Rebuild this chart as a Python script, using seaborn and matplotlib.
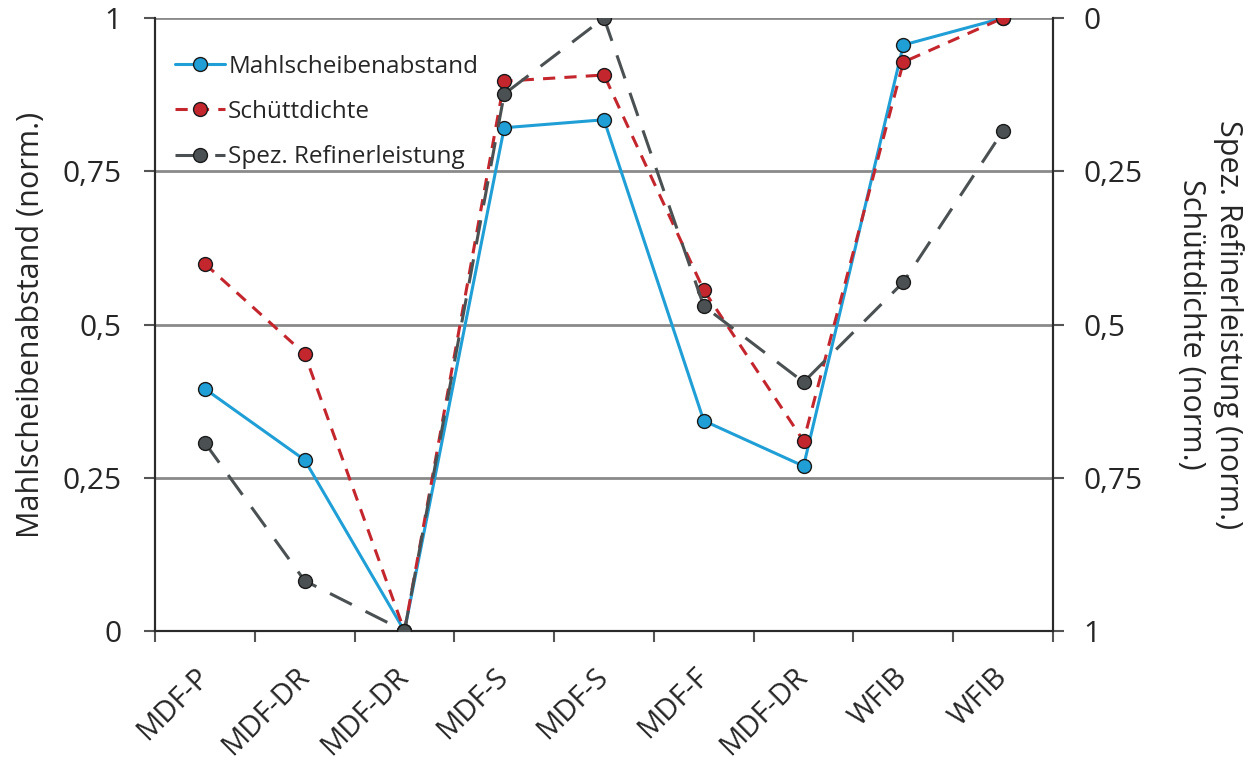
import matplotlib
matplotlib.use("Agg")
import matplotlib.pyplot as plt
import seaborn as sns
import numpy as np
import pandas as pd

categories = ["MDF-P", "MDF-DR", "MDF-DR", "MDF-S", "MDF-S", "MDF-F", "MDF-DR", "WFIB", "WFIB"]
mahlscheibenabstand = [0.395, 0.279, 0.0, 0.821, 0.834, 0.343, 0.269, 0.956, 1.0]
# right axis (inverted) values
schuettdichte = [0.401, 0.548, 1.0, 0.103, 0.093, 0.444, 0.690, 0.072, 0.0]
spez_refinerleistung = [0.693, 0.918, 1.0, 0.124, 0.0, 0.470, 0.594, 0.431, 0.184]
left_ticks = [0, 0.25, 0.5, 0.75, 1]
left_ticklabels = ["0", "0,25", "0,5", "0,75", "1"]
right_ticks = [0, 0.25, 0.5, 0.75, 1]
right_ticklabels = ["0", "0,25", "0,5", "0,75", "1"]

sns.set_theme(style="white")
plt.rcParams['font.family'] = ['Open Sans', 'DejaVu Sans']

fig = plt.figure(figsize=(12.55, 7.64), dpi=100)
ax = fig.add_axes([155/1255, 1-631/764, (1053-155)/1255, (631-18)/764])
ax2 = ax.twinx()

x = np.arange(len(categories))
df = pd.DataFrame({"x": x, "m": mahlscheibenabstand, "s": schuettdichte, "r": spez_refinerleistung})

blue = "#1f9fd6"
red = "#c4262e"
gray = "#4b5152"

sns.lineplot(data=df, x="x", y="m", ax=ax, color=blue, lw=2.2, marker="o", markersize=10,
             markerfacecolor=blue, markeredgecolor="#1a1a1a", markeredgewidth=1.0,
             label="Mahlscheibenabstand", zorder=3, legend=False)
sns.lineplot(data=df, x="x", y="s", ax=ax2, color=red, lw=2.2, marker="o", markersize=10,
             markerfacecolor=red, markeredgecolor="#1a1a1a", markeredgewidth=1.0,
             label="Schüttdichte", zorder=4, legend=False)
sns.lineplot(data=df, x="x", y="r", ax=ax2, color=gray, lw=2.2, marker="o", markersize=10,
             markerfacecolor=gray, markeredgecolor="#1a1a1a", markeredgewidth=1.0,
             label="Spez. Refinerleistung", zorder=5, legend=False)
ax2.lines[0].set_dashes([4, 3])
ax2.lines[1].set_dashes([8, 5])

ax.set_xlim(-0.5, len(categories) - 0.5)
ax.set_ylim(0, 1)
ax2.set_ylim(1, 0)

for y in [0.25, 0.5, 0.75, 1.0]:
    ax.axhline(y, color="#8a8a8a", lw=2, zorder=0)

ax.set_yticks(left_ticks)
ax.set_yticklabels(left_ticklabels, fontsize=21.5)
ax2.set_yticks(right_ticks)
ax2.set_yticklabels(right_ticklabels, fontsize=21.5)

ax.set_xticks(x)
ax.set_xticklabels(categories, fontsize=21, rotation=45, ha="right", va="center",
                   rotation_mode="anchor")
ax.set_xticks(np.arange(-0.5, len(categories)), minor=True)
ax.tick_params(axis="x", which="major", length=0, pad=30)
ax.tick_params(axis="x", which="minor", length=8, width=1.5, color="#555555", direction="out", bottom=True)
ax.tick_params(axis="y", length=8, width=1.5, color="#555555", direction="out", left=True, pad=16)
ax2.tick_params(axis="y", length=8, width=1.5, color="#555555", direction="out", right=True, pad=14)

ax.set_xlabel("")
ax.set_ylabel("Mahlscheibenabstand (norm.)", fontsize=22, labelpad=12)
ax2.set_ylabel("Spez. Refinerleistung (norm.)\nSchüttdichte (norm.)", fontsize=22,
               rotation=270, labelpad=73, linespacing=1.3)

for a in (ax, ax2):
    a.spines["top"].set_visible(False)
    for s in ("left", "right", "bottom"):
        a.spines[s].set_color("#2a2a2a")
        a.spines[s].set_linewidth(1.5)

handles = ax.get_lines()[:1] + ax2.get_lines()[:2]
labels = ["Mahlscheibenabstand", "Schüttdichte", "Spez. Refinerleistung"]
leg = ax.legend(handles, labels, loc="upper left", bbox_to_anchor=(0.022, 0.94), frameon=False,
                fontsize=17.5, handlelength=2.05, handletextpad=0.15, labelspacing=0.87,
                borderpad=0, borderaxespad=0)

fig.savefig("out.png", dpi=100)
